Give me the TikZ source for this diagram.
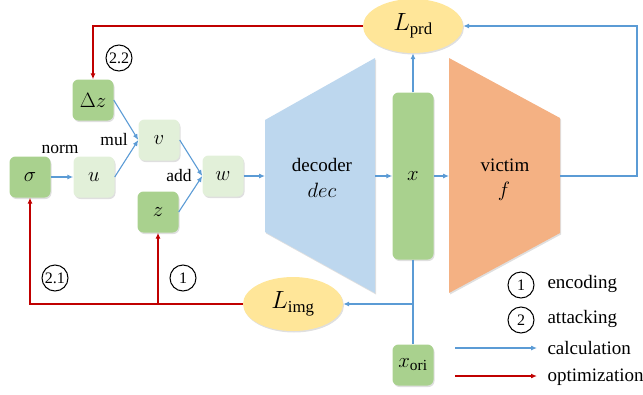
\documentclass[tikz,border=0pt]{standalone}
\usepackage{fontspec}
\setmainfont{Liberation Serif}
\usetikzlibrary{arrows.meta,shapes.geometric,shadows}
\definecolor{boxdark}{HTML}{A9D18E}
\definecolor{boxlight}{HTML}{E2F0D9}
\definecolor{decblue}{HTML}{BDD7EE}
\definecolor{vicorange}{HTML}{F4B183}
\definecolor{lossyellow}{HTML}{FFE699}
\definecolor{calcblue}{HTML}{5B9BD5}
\definecolor{optred}{HTML}{C00000}
\begin{document}
\begin{tikzpicture}[x=1pt,y=-1pt,
  shade/.style={drop shadow={opacity=0.25,shadow xshift=1pt,shadow yshift=-1.5pt}},
  box/.style={shade,rounded corners=6pt,minimum size=41pt,inner sep=0pt,font=\fontsize{22}{26}\selectfont},
  darkbox/.style={box,fill=boxdark},
  lightbox/.style={box,fill=boxlight},
  loss/.style={shade,ellipse,fill=lossyellow,minimum width=100pt,minimum height=54pt,inner sep=0pt,font=\fontsize{24}{28}\selectfont},
  calc/.style={draw=calcblue,line width=1.1pt,-{Latex[length=6pt,width=5pt]}},
  optim/.style={draw=optred,line width=1.3pt,-{Latex[length=6pt,width=5pt]}},
  numcirc/.style={circle,draw,line width=1pt,minimum size=26pt,inner sep=0pt,font=\fontsize{16}{18}\selectfont},
  lbl/.style={font=\fontsize{17.5}{20}\selectfont},
  txt/.style={font=\fontsize{19}{22}\selectfont}
]
\useasboundingbox (0,0) rectangle (643,394);

% decoder and victim
\fill[decblue,shade] (265,120) -- (375,58) -- (375,293) -- (265,232) -- cycle;
\fill[vicorange,shade] (449,58) -- (560,118) -- (560,233) -- (449,293) -- cycle;
\coordinate (decL) at (265,176);
\coordinate (decR) at (375,176);
\coordinate (vicL) at (449,176);
\coordinate (vicR) at (560,176);
\node[txt] (dectext) at (322,165) {decoder};
\node[txt,font=\fontsize{22}{26}\selectfont] (decname) at (322,190) {$dec$};
\node[txt] (victext) at (505,165) {victim};
\node[txt,font=\fontsize{22}{26}\selectfont] (vicname) at (504,191) {$f$};

% boxes
\node[darkbox] (sigma) at (30,177) {$\sigma$};
\node[lightbox] (u) at (94,177) {$u$};
\node[darkbox] (dz) at (93,100) {$\Delta z$};
\node[lightbox] (v) at (159,140) {$v$};
\node[darkbox] (z) at (158,212) {$z$};
\node[lightbox] (w) at (223,176) {$w$};
\node[darkbox,minimum height=167pt] (x) at (413,176) {$x$};
\node[darkbox] (xori) at (413,365) {$x_{\mathrm{ori}}$};

% losses
\node[loss] (Lprd) at (413,26) {$L_{\mathrm{prd}}$};
\node[loss] (Limg) at (293,304) {$L_{\mathrm{img}}$};

% labels
\node[lbl] (norm) at (60,149) {norm};
\node[lbl] (mul) at (114,140) {mul};
\node[lbl] (add) at (179,176) {add};
\node[numcirc] (c22) at (119,58) {2.2};
\node[numcirc] (c21) at (55,278) {2.1};
\node[numcirc] (c1) at (183,278) {1};

% calculation
\draw[calc] (sigma) -- (u);
\draw[calc] (u.east) -- (v.west);
\draw[calc] (dz.east) -- (v.west);
\draw[calc] (v.east) -- (w.west);
\draw[calc] (z.east) -- (w.west);
\draw[calc] (w) -- (decL);
\draw[calc] (decR) -- (x);
\draw[calc] (x) -- (vicL);
\draw[calc] (x) -- (Lprd);
\draw[calc] (vicR) -- ++(77,0) |- (Lprd.east);
\draw[calc,-] (x) -- (xori);
\draw[calc] (x.south |- Limg.east) -- (Limg.east);

% optimization
\draw[optim] (Lprd.west) -| (dz.north);
\draw[optim] (Limg.west) -| (sigma.south);
\draw[optim] (z.south |- Limg.west) -- (z.south);

% legend
\node[numcirc] (leg1) at (521,285) {1};
\node[txt,anchor=west] (legenc) at (544,284) {encoding};
\node[numcirc] (leg2) at (521,320) {2};
\node[txt,anchor=west] (legatt) at (544,319) {attacking};
\coordinate (calcA) at (455,348);
\coordinate (calcB) at (537,348);
\coordinate (optA) at (455,376);
\coordinate (optB) at (537,376);
\draw[calc] (calcA) -- (calcB);
\draw[optim] (optA) -- (optB);
\node[txt,anchor=west] (legcalc) at (544,348) {calculation};
\node[txt,anchor=west] (legopt) at (544,377) {optimization};
\end{tikzpicture}
\end{document}
